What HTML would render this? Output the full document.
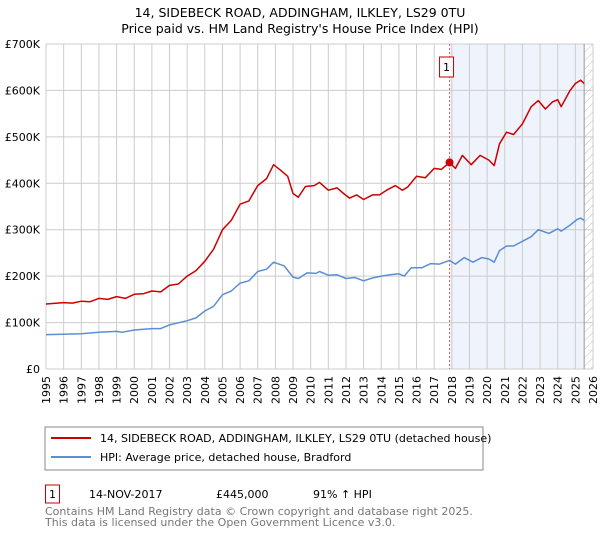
<!DOCTYPE html>
<html><head><meta charset="utf-8"><style>
body{margin:0;background:#fff;font-family:"Liberation Sans","DejaVu Sans",sans-serif;}
svg text{font-family:"DejaVu Sans","Liberation Sans",sans-serif;}
</style></head><body>
<svg id="c" width="600" height="530" xmlns="http://www.w3.org/2000/svg">
<defs><pattern id="hatch" width="6" height="6" patternUnits="userSpaceOnUse" patternTransform="rotate(45)"><line x1="0" y1="0" x2="0" y2="6" stroke="#bbb" stroke-width="1"/></pattern></defs>
<text x="300" y="17" text-anchor="middle" font-size="12.5" fill="#000">14, SIDEBECK ROAD, ADDINGHAM, ILKLEY, LS29 0TU</text>
<text x="300" y="33" text-anchor="middle" font-size="12.5" fill="#000">Price paid vs. HM Land Registry's House Price Index (HPI)</text>
<g id="plot"></g>
<rect x="45" y="427" width="438" height="43" fill="#fff" stroke="#888"/>
<line x1="51" y1="438" x2="91" y2="438" stroke="#cc0000" stroke-width="2"/>
<text x="100" y="442" font-size="11">14, SIDEBECK ROAD, ADDINGHAM, ILKLEY, LS29 0TU (detached house)</text>
<line x1="51" y1="457" x2="91" y2="457" stroke="#5b8fd4" stroke-width="2"/>
<text x="100" y="461" font-size="11">HPI: Average price, detached house, Bradford</text>
<rect x="45.5" y="485" width="14" height="18" fill="#fff" stroke="#cc0000"/>
<text x="52.5" y="498" font-size="11" text-anchor="middle">1</text>
<text x="89" y="498" font-size="11">14-NOV-2017</text>
<text x="216" y="498" font-size="11">£445,000</text>
<text x="313" y="498" font-size="11">91% ↑ HPI</text>
<text x="45" y="515" font-size="11" fill="#777">Contains HM Land Registry data © Crown copyright and database right 2025.</text>
<text x="45" y="526" font-size="11" fill="#777">This data is licensed under the Open Government Licence v3.0.</text>
</svg>
<script>
const yTicks=[0,100,200,300,400,500,600,700];
const yTickLabels=["£0","£100K","£200K","£300K","£400K","£500K","£600K","£700K"];
const xYears=[1995,1996,1997,1998,1999,2000,2001,2002,2003,2004,2005,2006,2007,2008,2009,2010,2011,2012,2013,2014,2015,2016,2017,2018,2019,2020,2021,2022,2023,2024,2025,2026];
const saleYear=2017.87;
const saleValue=445;
const dataEndYear=2025.5;
const redYears=[1995,1996,1996.5,1997,1997.5,1998,1998.5,1999,1999.5,2000,2000.5,2001,2001.5,2002,2002.5,2003,2003.5,2004,2004.5,2005,2005.5,2006,2006.5,2007,2007.5,2007.9,2008.3,2008.7,2009,2009.3,2009.7,2010.2,2010.5,2011,2011.5,2011.9,2012.2,2012.6,2013,2013.5,2013.9,2014.3,2014.8,2015.2,2015.5,2016,2016.5,2017,2017.4,2017.87,2018.2,2018.6,2019.1,2019.6,2020.1,2020.4,2020.7,2021.1,2021.5,2022,2022.5,2022.9,2023.3,2023.7,2024,2024.2,2024.7,2025,2025.3,2025.5];
const redValues=[140,143,142,146,145,152,150,156,152,161,162,168,166,180,183,200,212,232,258,300,320,355,362,395,410,440,428,415,378,370,393,395,402,385,390,377,368,375,365,375,375,385,395,385,392,415,412,432,430,445,432,460,440,460,450,438,485,510,505,528,565,578,560,575,580,565,600,615,622,615];
const blueYears=[1995,1996,1997,1998,1999,1999.3,2000,2001,2001.5,2002,2003,2003.5,2004,2004.5,2005,2005.5,2006,2006.5,2007,2007.5,2007.9,2008.5,2009,2009.3,2009.8,2010.3,2010.5,2011,2011.5,2012,2012.5,2013,2013.5,2014,2014.5,2015,2015.3,2015.7,2016.3,2016.8,2017.3,2017.87,2018.2,2018.7,2019.2,2019.7,2020.1,2020.4,2020.7,2021.1,2021.5,2022,2022.5,2022.9,2023.5,2024,2024.2,2024.7,2025.1,2025.3,2025.5];
const blueValues=[74,75,76,79,81,79,84,87,87,95,104,110,125,135,160,168,185,190,210,215,230,222,198,195,207,206,210,202,203,195,197,190,196,200,203,205,200,218,218,227,226,234,226,240,230,240,237,230,255,265,265,275,285,300,292,302,297,310,322,325,320];
const NS="http://www.w3.org/2000/svg";
const X0=46,X1=593,Y0=369,Y1=44;
const xs=y=>X0+(y-1995)/(2026-1995)*(X1-X0);
const ys=v=>Y0-v/700*(Y0-Y1);
const g=document.getElementById('plot');
function mk(t,a){const e=document.createElementNS(NS,t);for(const k in a)e.setAttribute(k,a[k]);g.appendChild(e);return e;}
let r=mk('rect',{x:X0,y:Y1,width:X1-X0,height:Y0-Y1,fill:'#fff'});


r=mk('rect',{x:xs(saleYear),y:Y1,width:xs(dataEndYear)-xs(saleYear),height:Y0-Y1,fill:'#eef3fc'});


r=mk('rect',{x:xs(dataEndYear),y:Y1,width:X1-xs(dataEndYear),height:Y0-Y1,fill:'url(#hatch)'});


xYears.forEach(y=>{const l=mk('line',{x1:xs(y),x2:xs(y),y1:Y1,y2:Y0,stroke:'#ccc','stroke-width':1});


const t=mk('text',{x:0,y:0,'font-size':11,'text-anchor':'end',transform:`translate(${xs(y)+4},${Y0+7}) rotate(-90)`});t.textContent=y;

});
yTicks.forEach((v,i)=>{const l=mk('line',{x1:X0,x2:X1,y1:ys(v),y2:ys(v),stroke:'#ccc','stroke-width':1});


const t=mk('text',{x:40,y:ys(v)+4,'font-size':11,'text-anchor':'end'});t.textContent=yTickLabels[i];

});
let l=mk('line',{x1:xs(dataEndYear),x2:xs(dataEndYear),y1:Y1,y2:Y0,stroke:'#999','stroke-width':1});


l=mk('line',{x1:xs(saleYear),x2:xs(saleYear),y1:Y1,y2:Y0,stroke:'#e06060','stroke-width':1,'stroke-dasharray':'2,2'});


function path(xa,va,c,n){const p=mk('path',{d:xa.map((x,i)=>(i?'L':'M')+xs(x).toFixed(1)+','+ys(va[i]).toFixed(1)).join(''),fill:'none',stroke:c,'stroke-width':1.5,'stroke-linejoin':'round'});

}
path(blueYears,blueValues,'#5b8fd4','hpi-line');
path(redYears,redValues,'#cc0000','property-price-line');
const d=mk('circle',{cx:xs(saleYear),cy:ys(saleValue),r:4,fill:'#cc0000'});


const b=mk('rect',{x:xs(saleYear)-10,y:57,width:14,height:20,fill:'#fff',stroke:'#cc0000'});


const bt=mk('text',{x:xs(saleYear)-3,y:71,'font-size':11,'text-anchor':'middle'});bt.textContent='1';


</script>
</body></html>
